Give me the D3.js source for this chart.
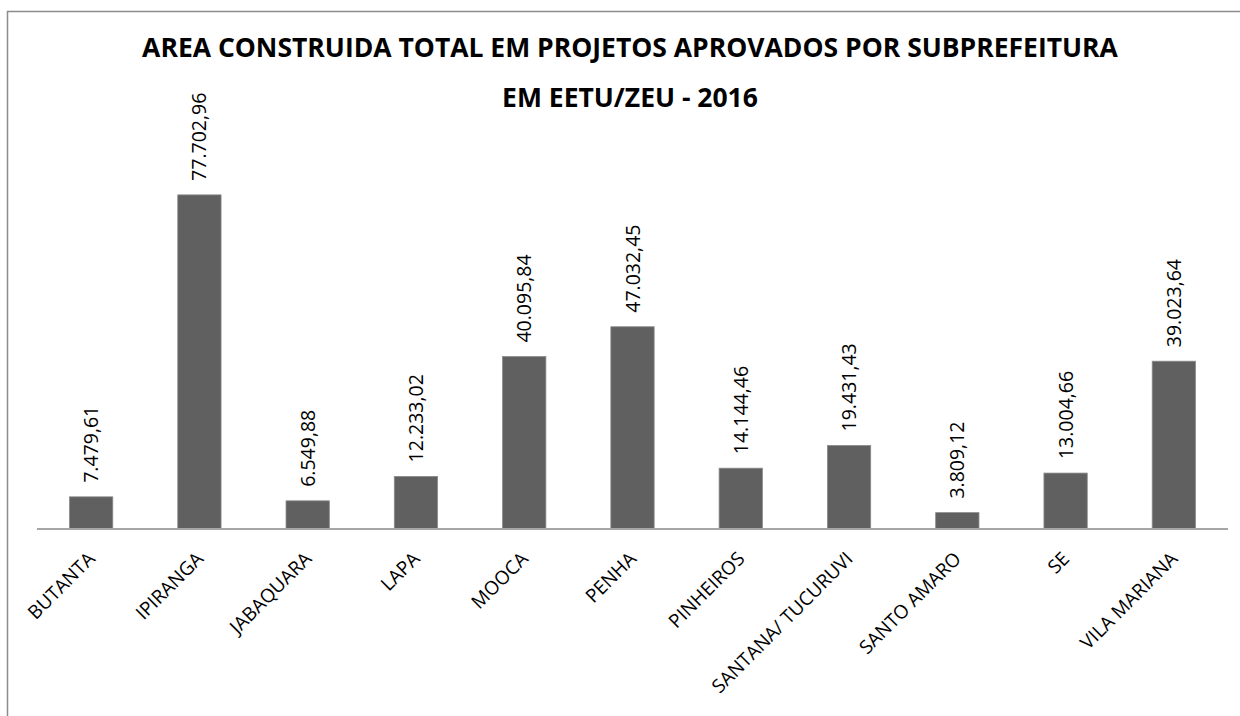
<!DOCTYPE html>
<html>
<head>
<meta charset="utf-8">
<script src="https://cdn.jsdelivr.net/npm/d3@7"></script>
<style>
  body { margin: 0; background: #fff; }
  svg { display: block; }
</style>
</head>
<body>
<svg id="chart" width="1240" height="716"></svg>
<script>
var categories = ["BUTANTA", "IPIRANGA", "JABAQUARA", "LAPA", "MOOCA", "PENHA",
  "PINHEIROS", "SANTANA/ TUCURUVI", "SANTO AMARO", "SE", "VILA MARIANA"];
var values = [7479.61, 77702.96, 6549.88, 12233.02, 40095.84, 47032.45,
  14144.46, 19431.43, 3809.12, 13004.66, 39023.64];
var titleLines = ["AREA CONSTRUIDA TOTAL EM PROJETOS APROVADOS POR SUBPREFEITURA",
  "EM EETU/ZEU - 2016"];

var w = 1240, h = 716,
    left = 37, right = 1228, axisY = 529;

var svg = d3.select("#chart");

// chart border (runs off right and bottom)
svg.append("rect")
   .attr("x", 7.5).attr("y", 11.5)
   .attr("width", w).attr("height", h)
   .attr("fill", "none")
   .attr("stroke", "#8c8c8c")
   .attr("stroke-width", 1.5);

var x = d3.scaleBand()
  .domain(categories)
  .range([left, right])
  .paddingInner(0.6)
  .paddingOuter(0.3);

var y = d3.scaleLinear()
  .domain([0, 90000])
  .range([axisY, 142]);

var fmt = function(v) {
  var s = d3.format(",.2f")(v);
  return s.replace(/,/g, "#").replace(".", ",").replace(/#/g, ".");
};

svg.selectAll("rect.bar")
   .data(values)
   .enter()
   .append("rect")
   .attr("class", "bar")
   .attr("x", function(d, i) { return x(categories[i]); })
   .attr("y", function(d) { return y(d); })
   .attr("width", x.bandwidth())
   .attr("height", function(d) { return axisY - y(d); })
   .attr("fill", "#606060")
   .attr("stroke", "#8a8a8a")
   .attr("stroke-width", 0.8);

// axis line
svg.append("line")
   .attr("x1", left).attr("x2", right)
   .attr("y1", axisY).attr("y2", axisY)
   .attr("stroke", "#a6a6a6")
   .attr("stroke-width", 2);

// value labels
svg.selectAll("text.val")
   .data(values)
   .enter()
   .append("text")
   .attr("class", "val")
   .attr("transform", function(d, i) {
     var cx = x(categories[i]) + x.bandwidth() / 2;
     return "translate(" + (cx + 7) + "," + (y(d) - 14) + ") rotate(-90)";
   })
   .attr("font-family", "Open Sans")
   .attr("font-size", "19.5px")
   .attr("fill", "#000")
   .text(function(d) { return fmt(d); });

// category labels
svg.selectAll("text.cat")
   .data(categories)
   .enter()
   .append("text")
   .attr("class", "cat")
   .attr("text-anchor", "end")
   .attr("transform", function(d) {
     var cx = x(d) + x.bandwidth() / 2;
     return "translate(" + (cx + 5) + "," + (axisY + 31) + ") rotate(-45)";
   })
   .attr("font-family", "Open Sans")
   .attr("font-size", "19px")
   .attr("fill", "#000")
   .text(function(d) { return d; });

// title
svg.selectAll("text.title")
   .data(titleLines)
   .enter()
   .append("text")
   .attr("class", "title")
   .attr("x", 630)
   .attr("y", function(d, i) { return 57 + i * 50; })
   .attr("text-anchor", "middle")
   .attr("font-family", "Open Sans")
   .attr("font-weight", "bold")
   .attr("font-size", "26.5px")
   .attr("fill", "#000")
   .text(function(d) { return d; });
</script>
</body>
</html>
